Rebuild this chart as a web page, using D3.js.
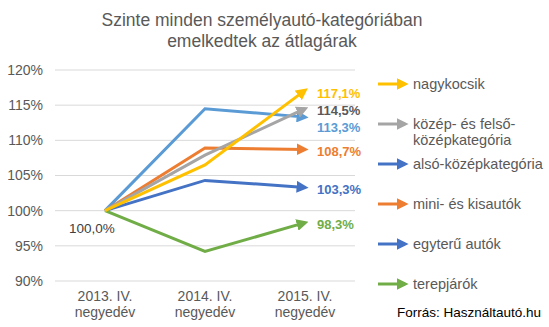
<!DOCTYPE html>
<html>
<head>
<meta charset="utf-8">
<script src="https://cdn.jsdelivr.net/npm/d3@7"></script>
<style>
  body { margin: 0; background: #fff; }
  svg { font-family: Arial, "Liberation Sans", sans-serif; }
</style>
</head>
<body>
<svg width="549" height="327"></svg>
<script>
// data
const quarters = ["2013. IV.|negyedév", "2014. IV.|negyedév", "2015. IV.|negyedév"];
const seriesNames = ["nagykocsik", "közép- és felső-középkategória", "alsó-középkategória", "mini- és kisautók", "egyterű autók", "terepjárók"];
const nagykocsik = [100, 106.5, 117.1];
const kozepFelso = [100, 107.9, 114.5];
const alsoKozep = [100, 114.5, 113.3];
const miniKis = [100, 108.9, 108.7];
const egyteru = [100, 104.3, 103.3];
const terepjarok = [100, 94.2, 98.3];
const yTicks = [90, 95, 100, 105, 110, 115, 120];

const lineColors = ["#FFC000", "#A5A5A5", "#5B9BD5", "#ED7D31", "#4472C4", "#70AD47"];
const labelColors = ["#FFC000", "#595959", "#5B9BD5", "#ED7D31", "#4472C4", "#70AD47"];
const legendColors = ["#FFC000", "#A5A5A5", "#4472C4", "#ED7D31", "#4472C4", "#70AD47"];
const allValues = [nagykocsik, kozepFelso, alsoKozep, miniKis, egyteru, terepjarok];

const svg = d3.select("svg");
const textColor = "#595959";

// title
svg.append("text")
    .attr("y", 26)
    .attr("text-anchor", "middle")
    .style("font-size", "17.5px").style("fill", textColor)
    .selectAll("tspan")
    .data(["Szinte minden személyautó-kategóriában", "emelkedtek az átlagárak"])
    .join("tspan")
    .attr("x", 262)
    .attr("dy", (d, i) => i ? 21 : 0)
    .text(d => d);

// scales
const x = d3.scalePoint().domain(quarters).range([105, 305]);
const y = d3.scaleLinear().domain([90, 120]).range([281, 70]);

// grid
svg.append("g")
    .selectAll("line")
    .data(yTicks)
    .join("line")
    .attr("x1", 55).attr("x2", 355)
    .attr("y1", d => y(d)).attr("y2", d => y(d))
    .attr("stroke", "#d9d9d9").attr("stroke-width", 1);

// y axis labels
svg.append("g")
    .selectAll("text")
    .data(yTicks)
    .join("text")
    .attr("x", 43).attr("y", d => y(d))
    .attr("dy", "0.35em")
    .attr("text-anchor", "end")
    .style("font-size", "14px").style("fill", textColor)
    .text(d => d + "%");

// x axis labels
svg.append("g")
    .selectAll("text")
    .data(quarters)
    .join("text")
    .attr("text-anchor", "middle")
    .style("font-size", "14px").style("fill", textColor)
    .each(function(d) {
        const parts = d.split("|");
        d3.select(this).selectAll("tspan")
            .data(parts)
            .join("tspan")
            .attr("x", x(d))
            .attr("y", (p, i) => 301 + i * 16)
            .text(p => p);
    });

// arrow markers, one per colour
const defs = svg.append("defs");
lineColors.concat(legendColors).forEach((c, i) => {
    defs.append("marker")
        .attr("id", "arrow" + i)
        .attr("viewBox", "0 0 10 10")
        .attr("refX", 7).attr("refY", 5)
        .attr("markerUnits", "userSpaceOnUse")
        .attr("markerWidth", 12).attr("markerHeight", 12)
        .attr("orient", "auto")
        .append("path")
        .attr("d", "M0,0 L10,5 L0,10 Z")
        .attr("fill", c);
});

// lines
const line = d3.line()
    .x((d, i) => x(quarters[i]))
    .y(d => y(d));

const drawOrder = [2, 3, 1, 4, 5, 0];
svg.append("g")
    .selectAll("path")
    .data(drawOrder)
    .join("path")
    .attr("d", i => line(allValues[i]))
    .attr("fill", "none")
    .attr("stroke", i => lineColors[i])
    .attr("stroke-width", 3)
    .attr("marker-end", i => `url(#arrow${i})`);

// end value labels
const fmt = v => d3.format(".1f")(v).replace(".", ",") + "%";
const labelShift = [3.5, 1.5, 10, 2, 2, 2];
svg.append("g")
    .selectAll("text")
    .data(allValues)
    .join("text")
    .attr("x", 317)
    .attr("y", (d, i) => y(d[2]) + labelShift[i])
    .attr("dy", "0.35em")
    .style("font-size", "13px").style("font-weight", "bold")
    .style("fill", (d, i) => labelColors[i])
    .text(d => fmt(d[2]));

svg.append("text")
    .attr("x", 69).attr("y", y(100) + 18)
    .attr("dy", "0.35em")
    .style("font-size", "13.5px").style("fill", "#404040")
    .text(fmt(nagykocsik[0]));

// legend
const legendY = [84, 124, 164, 204, 244, 284];
const legend = svg.append("g")
    .selectAll("g")
    .data(seriesNames)
    .join("g")
    .attr("transform", (d, i) => `translate(378,${legendY[i]})`);

legend.append("line")
    .attr("x1", 0).attr("x2", 27)
    .attr("y1", 0).attr("y2", 0)
    .attr("stroke", (d, i) => legendColors[i])
    .attr("stroke-width", 3)
    .attr("marker-end", (d, i) => `url(#arrow${i + 6})`);

legend.append("text")
    .style("font-size", "14.5px").style("fill", textColor)
    .each(function(d) {
        const parts = d === "közép- és felső-középkategória" ? ["közép- és felső-", "középkategória"] : [d];
        d3.select(this).selectAll("tspan")
            .data(parts)
            .join("tspan")
            .attr("x", 35)
            .attr("y", (p, i) => i * 16)
            .attr("dy", "0.35em")
            .text(p => p);
    });

// source
svg.append("text")
    .attr("x", 541).attr("y", 312)
    .attr("dy", "0.35em")
    .attr("text-anchor", "end")
    .style("font-size", "13.5px").style("fill", "#000")
    .text("Forrás: Használtautó.hu");
</script>
</body>
</html>
